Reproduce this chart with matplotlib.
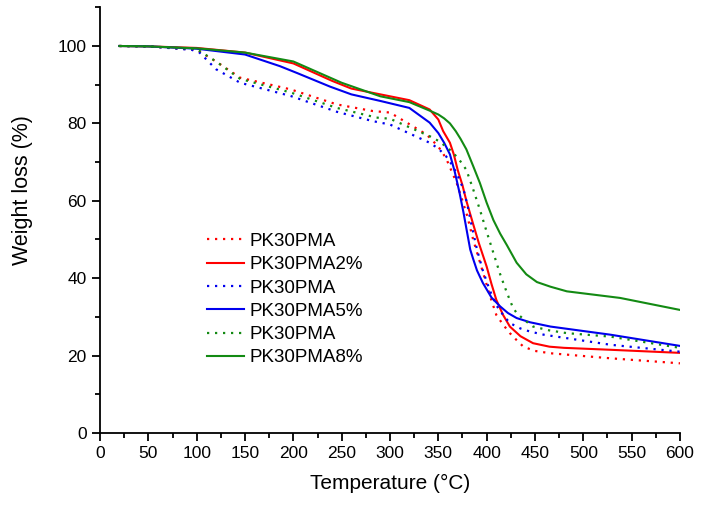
import matplotlib.pyplot as plt
from matplotlib.ticker import MultipleLocator

plt.rcParams['font.family'] = ['Liberation Sans', 'DejaVu Sans']

# PK30PMA (dotted, red)
t_ref_a = [20, 50, 100, 120, 145, 197, 245, 282, 300, 338, 350, 358, 364, 369, 375, 380, 386, 392, 398,
           404, 410, 417, 424, 431, 438, 450, 466, 528, 600]
w_ref_a = [100, 99.9, 99, 96, 91.8, 88.8, 84.9, 83.2, 82.8, 77.1, 74, 71, 67.5, 64.6, 60, 56, 50, 45, 40,
           35, 30.5, 28, 25.8, 24, 22.3, 21.2, 20.6, 19.3, 18]
# PK30PMA2%
t_pk2 = [20, 50, 100, 150, 200, 240, 260, 290, 320, 341, 350, 355, 362, 366, 370, 375, 379, 386, 392, 396,
         400, 405, 410, 417, 424, 435, 448, 465, 480, 528, 600]
w_pk2 = [100, 99.9, 99.5, 98.3, 95.5, 91, 89, 87.5, 86, 83.6, 81, 78, 75, 72, 68, 64, 60, 54, 49, 46,
         43, 38.5, 34.4, 30.5, 27.5, 25, 23.2, 22.3, 22, 21.5, 20.7]
# PK30PMA (dotted, blue)
t_ref_b = [20, 50, 95, 103, 120, 145, 197, 245, 282, 300, 341, 350, 358, 365, 370, 376, 380, 385, 390, 396,
           403, 410, 417, 424, 435, 445, 459, 528, 600]
w_ref_b = [100, 99.9, 99, 98.3, 94, 90.5, 87.1, 83, 80.6, 79.7, 75, 73.5, 71.5, 69, 66.5, 63, 59, 53, 47.4, 42,
           37, 33, 30.5, 28.4, 27, 26.2, 25.4, 22.8, 21]
# PK30PMA5%
t_pk5 = [20, 50, 100, 150, 186, 204, 238, 260, 290, 320, 341, 350, 356, 362, 367, 372, 376, 380, 383, 386,
         390, 396, 405, 414, 422, 431, 445, 466, 528, 600]
w_pk5 = [100, 99.9, 99.3, 97.8, 94.8, 93, 89.5, 87.5, 85.8, 84, 80.2, 77.5, 75, 72, 67.5, 62, 57, 51.5, 47.4, 45,
         42, 38.8, 35, 32.7, 31, 29.7, 28.6, 27.5, 25.4, 22.5]
# PK30PMA (dotted, green)
t_ref_c = [20, 50, 100, 120, 145, 197, 245, 286, 300, 341, 350, 358, 365, 372, 379, 386, 393, 400, 407, 414,
           421, 427, 431, 440, 448, 465, 483, 528, 600]
w_ref_c = [100, 99.9, 99.2, 96, 91.5, 88, 84, 81.5, 81.2, 76.7, 75.5, 74, 72.5, 70.5, 68, 63, 57.7, 52, 46.5, 41,
           36.2, 32.5, 31, 29, 27.5, 26.5, 25.8, 24.9, 22]
# PK30PMA8%
t_pk8 = [20, 50, 100, 150, 200, 250, 290, 320, 341, 350, 356, 362, 368, 373, 379, 386, 393, 400, 407, 414,
         421, 431, 441, 452, 466, 483, 538, 600]
w_pk8 = [100, 99.9, 99.4, 98.3, 96, 90.5, 87, 85.5, 83.3, 82.3, 81.3, 80, 78, 76, 73.3, 69, 64.6, 59.5, 55, 51.5,
         48.5, 44, 41, 39, 37.8, 36.6, 34.9, 31.8]

red, blue, green = '#ff0000', '#0000ee', '#138a13'
dots = (0, (1, 2.6))

fig = plt.figure(figsize=(7.01, 5.07), dpi=100)
ax = fig.add_axes([0.1427, 0.146, 0.8273, 0.8396])

ax.plot(t_ref_a, w_ref_a, color=red, lw=1.6, linestyle=dots, label='PK30PMA')
ax.plot(t_pk2, w_pk2, color=red, lw=1.5, label='PK30PMA2%')
ax.plot(t_ref_b, w_ref_b, color=blue, lw=1.6, linestyle=dots, label='PK30PMA')
ax.plot(t_pk5, w_pk5, color=blue, lw=1.5, label='PK30PMA5%')
ax.plot(t_ref_c, w_ref_c, color=green, lw=1.6, linestyle=dots, label='PK30PMA')
ax.plot(t_pk8, w_pk8, color=green, lw=1.5, label='PK30PMA8%')

ax.set_xlim(0, 600)
ax.set_ylim(0, 110)
ax.xaxis.set_major_locator(MultipleLocator(50))
ax.xaxis.set_minor_locator(MultipleLocator(25))
ax.yaxis.set_major_locator(MultipleLocator(20))
ax.yaxis.set_minor_locator(MultipleLocator(10))
ax.tick_params(which='major', direction='out', length=6, width=1.3, labelsize=12.5)
ax.tick_params(which='minor', direction='out', length=3.5, width=1.3)
for s in ['top', 'right']:
    ax.spines[s].set_visible(False)
for s in ['left', 'bottom']:
    ax.spines[s].set_linewidth(1.3)

ax.set_xlabel('Temperature (°C)', fontsize=15, labelpad=9)
ax.set_ylabel('Weight loss (%)', fontsize=15.5)
ax.yaxis.set_label_coords(-0.115, 0.57)

ax.legend(loc='upper left', bbox_to_anchor=(0.155, 0.51), frameon=False, fontsize=13.5,
          handlelength=2.0, labelspacing=0.33, handletextpad=0.3)

fig.savefig('out.png', dpi=100)
